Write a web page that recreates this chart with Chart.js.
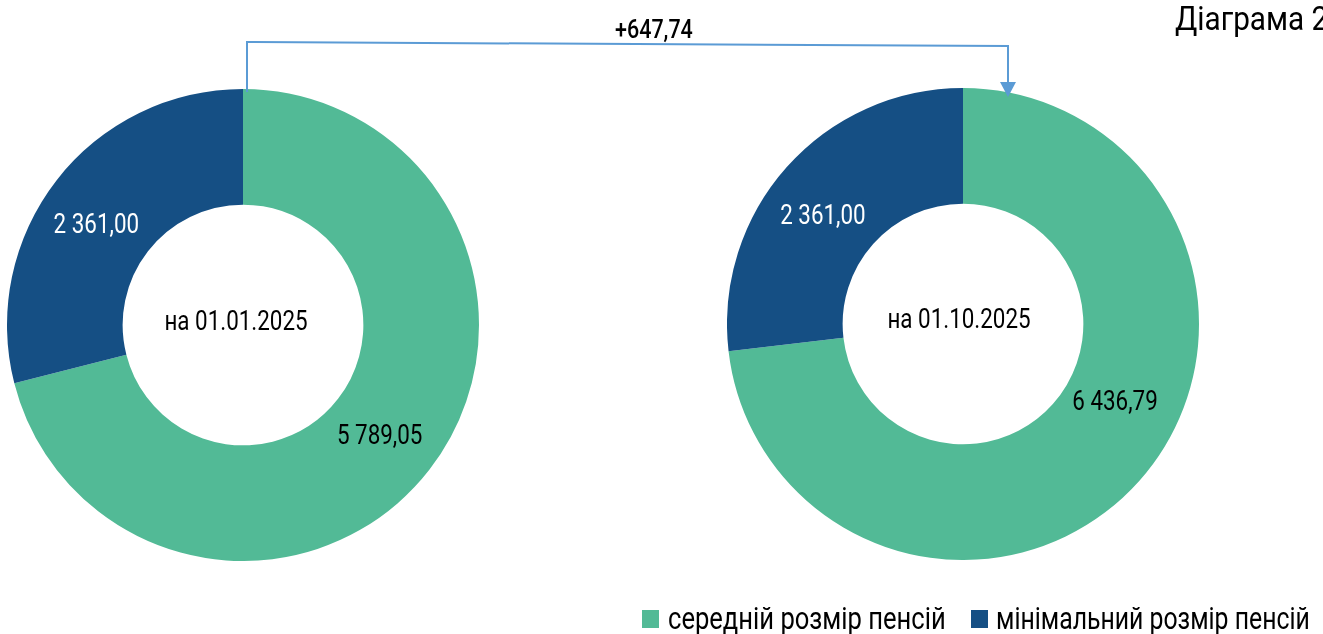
<!DOCTYPE html>
<html>
<head>
<meta charset="utf-8">
<script src="https://cdn.jsdelivr.net/npm/chart.js@4/dist/chart.umd.min.js"></script>
<style>
  body { margin: 0; width: 1323px; height: 634px; background: #fff; overflow: hidden; position: relative;
         font-family: "Roboto", "DejaVu Sans Condensed", sans-serif; color: #000; }
  .box { position: absolute; width: 472px; height: 472px; }
  .txt { position: absolute; white-space: nowrap; line-height: 1; transform-origin: 0 0; }
  .sw { position: absolute; width: 17px; height: 18px; }
  svg { position: absolute; left: 0; top: 0; }
</style>
</head>
<body>
<div class="box" style="left:7px; top:89px;"><canvas id="chart1"></canvas></div>
<div class="box" style="left:727px; top:88px;"><canvas id="chart2"></canvas></div>
<svg width="1323" height="634">
  <polyline points="247,92 247,42 1008,46 1008,83" fill="none" stroke="#5b9bd5" stroke-width="2"/>
  <polygon points="1000,82 1016,82 1008,97" fill="#5b9bd5"/>
</svg>
<div class="txt" id="diff" style="left:615px; top:17px; font-size:25px; font-weight:500; transform:scaleX(0.86);">+647,74</div>
<div class="txt" style="left:1175px; top:2px; font-size:33px; transform:scaleX(0.9);">Діаграма 2</div>
<div id="legend"></div>
<script>
const seriesNames = ["середній розмір пенсій", "мінімальний розмір пенсій"];
const colors = ["#52ba96", "#154f84"];
const dates = ["на 01.01.2025", "на 01.10.2025"];
const values2025Jan = [5789.05, 2361.0];
const values2025Oct = [6436.79, 2361.0];
const labelColors = ["#000", "#fff"];

const fmt = (v) => v.toFixed(2).replace(".", ",").replace(/\B(?=(\d{3})+(?!\d))/g, " ");
const font = '"Roboto", "DejaVu Sans Condensed", sans-serif';
const squeeze = 0.8;

function drawText(ctx, text, x, y) {
  ctx.save();
  ctx.translate(x, y);
  ctx.scale(squeeze, 1);
  ctx.fillText(text, 0, 0);
  ctx.restore();
}

const labelsPlugin = {
  id: "labels",
  afterDatasetsDraw(chart, args, opts) {
    const ctx = chart.ctx;
    const meta = chart.getDatasetMeta(0);
    ctx.save();
    ctx.font = "28px " + font;
    ctx.textAlign = "center";
    ctx.textBaseline = "middle";
    meta.data.forEach((arc, i) => {
      const p = arc.tooltipPosition();
      ctx.fillStyle = labelColors[i];
      drawText(ctx, fmt(chart.data.datasets[0].data[i]), p.x + opts.shift[i][0], p.y + opts.shift[i][1]);
    });
    const c = meta.data[0];
    ctx.fillStyle = "#000";
    drawText(ctx, opts.center, c.x + opts.shift[2][0], c.y + opts.shift[2][1]);
    ctx.restore();
  },
};

function makeChart(id, values, center, shift) {
  return new Chart(document.getElementById(id), {
    type: "doughnut",
    data: {
      labels: seriesNames,
      datasets: [{ data: values, backgroundColor: colors, borderWidth: 0 }],
    },
    options: {
      responsive: true,
      maintainAspectRatio: false,
      animation: false,
      cutout: "51%",
      layout: { padding: 0 },
      plugins: {
        legend: { display: false },
        tooltip: { enabled: false },
        labels: { center: center, shift: shift },
      },
    },
    plugins: [labelsPlugin],
  });
}

makeChart("chart1", values2025Jan, dates[0], [[-4, 3], [-6, 10], [-7, -2]]);
makeChart("chart2", values2025Oct, dates[1], [[19, -40], [-7, 12], [-4, -3]]);

// legend
const legendPos = [[642, 668, 0.825], [971, 996, 0.8]];
document.getElementById("legend").innerHTML = seriesNames
  .map((n, i) =>
    `<div class="sw" style="left:${legendPos[i][0]}px; top:610px; background:${colors[i]}"></div>` +
    `<div class="txt" style="left:${legendPos[i][1]}px; top:603px; font-size:31px; transform:scaleX(${legendPos[i][2]});">${n}</div>`)
  .join("");
</script>
</body>
</html>
